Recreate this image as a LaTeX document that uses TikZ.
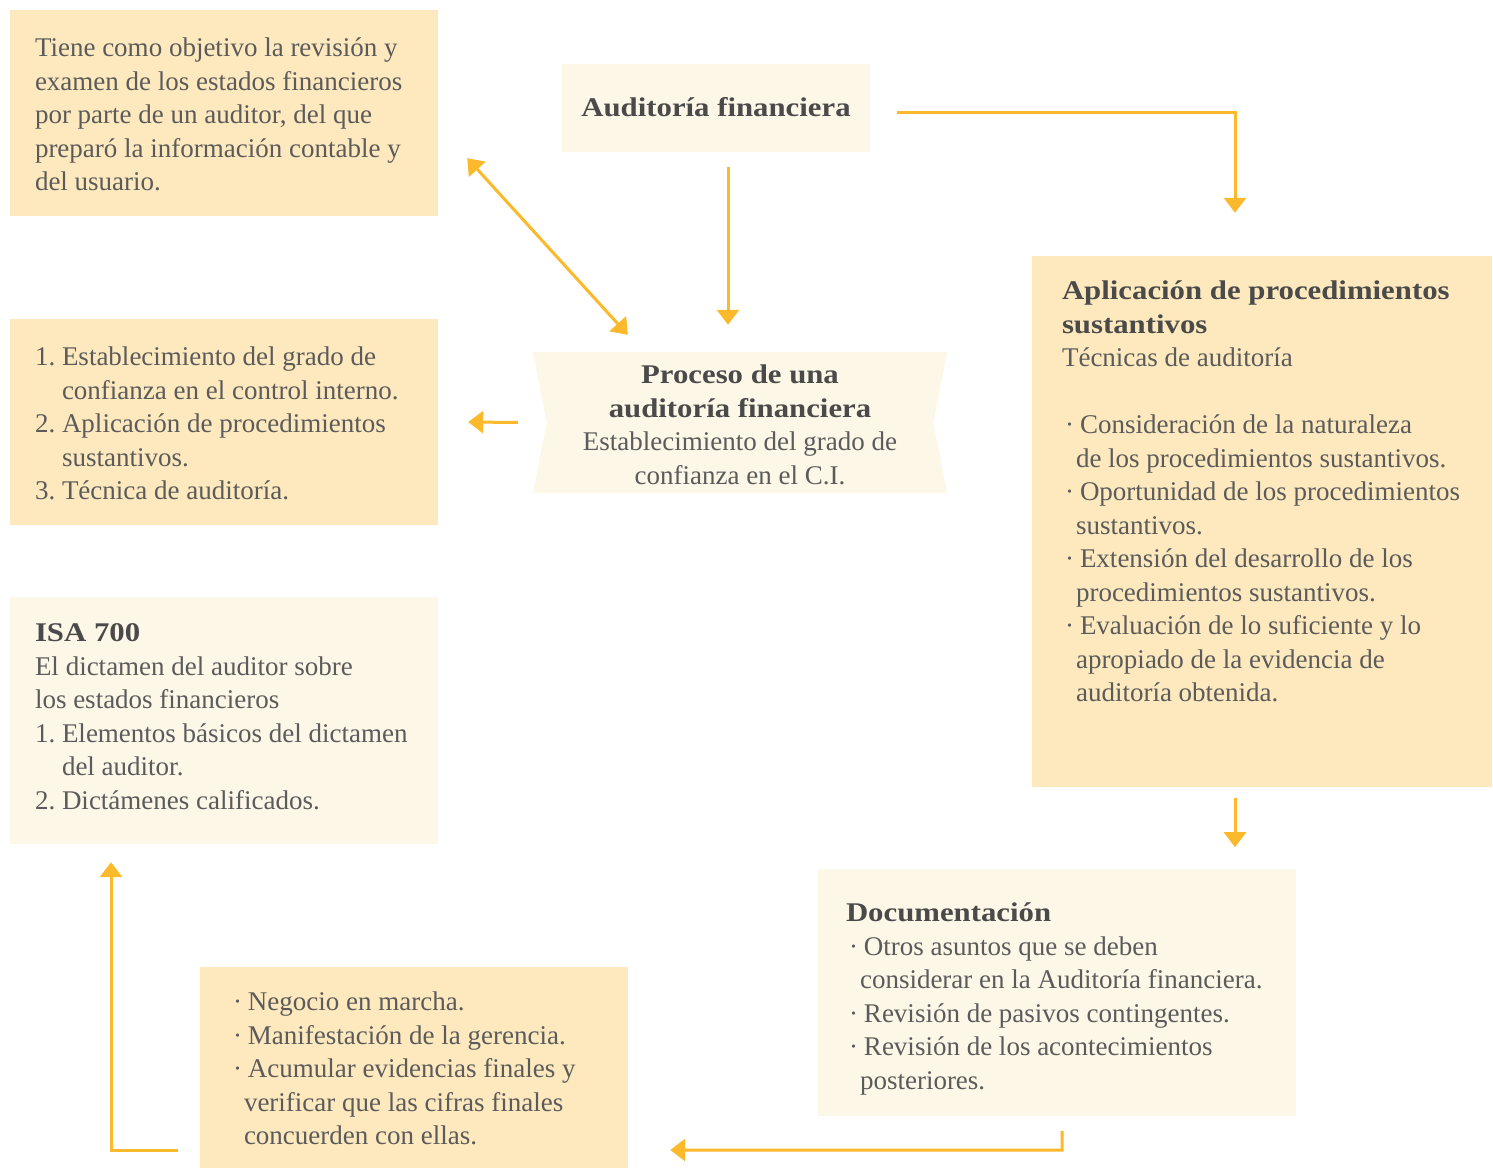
\documentclass[tikz,border=0pt]{standalone}
\usepackage{fontspec}
\setmainfont{Liberation Serif}[BoldFeatures={FakeStretch=1.14}]
\usetikzlibrary{arrows.meta,calc}
\definecolor{arr}{HTML}{FBB92B}
\definecolor{darkfill}{HTML}{FDE9BD}
\definecolor{lightfill}{HTML}{FDF7E7}
\definecolor{txtgray}{HTML}{5B5B5B}
\definecolor{boldgray}{HTML}{4A4A4A}
\newcommand\bitem{\hspace*{3pt}·\hspace{6pt}}
\newcommand\bcont{\hspace*{14pt}}
\newcommand\numi[1]{\makebox[27pt][l]{#1}}
\newcommand\numc{\hspace*{27pt}}
\newcommand\hd[1]{{\bfseries\color{boldgray}#1}}
\begin{document}
\begin{tikzpicture}[x=1pt,y=-1pt,
  dbox/.style={fill=darkfill,draw=none,inner sep=0pt},
  lbox/.style={fill=lightfill,draw=none,inner sep=0pt},
  txt/.style={anchor=north west,inner sep=0pt,align=left,text=txtgray,
    font=\fontsize{27}{33.5}\selectfont},
  conn/.style={draw=arr,line width=3pt,-{Triangle[width=22pt,length=15pt]}},
]
\useasboundingbox (0,0) rectangle (1493,1169);
% boxes
\node[dbox,minimum width=428pt,minimum height=206pt] (obj) at (224,113) {};
\node[lbox,minimum width=308pt,minimum height=88pt] (af) at (716,108) {};
\node[dbox,minimum width=428pt,minimum height=206pt] (lst) at (224,422) {};
\node[inner sep=0pt,minimum width=414pt,minimum height=141pt] (proc) at (740,422.5) {};
\fill[lightfill] (proc.north west) -- (proc.north east) -- ($(proc.east)+(-14,0)$)
  -- (proc.south east) -- (proc.south west) -- ($(proc.west)+(14,0)$) -- cycle;
\node[dbox,minimum width=460pt,minimum height=531pt] (apl) at (1262,521.5) {};
\node[lbox,minimum width=428pt,minimum height=247pt] (isa) at (224,720.5) {};
\node[lbox,minimum width=478pt,minimum height=247pt] (doc) at (1057,992.5) {};
\node[dbox,minimum width=428pt,minimum height=201pt] (fin) at (414,1067.5) {};
% texts
\node[txt] (objt) at ($(obj.north west)+(25,23.5)$) {\strut Tiene como objetivo la revisión y\\
examen de los estados financieros\\ por parte de un auditor, del que\\
preparó la información contable y\\ del usuario.};
\node[inner sep=0pt,font=\fontsize{27}{33.5}\selectfont] (aft) at (716,107) {\hd{Auditoría financiera}};
\node[txt] (lstt) at ($(lst.north west)+(25,23.5)$) {\strut\numi{1.}Establecimiento del grado de\\
\numc confianza en el control interno.\\ \numi{2.}Aplicación de procedimientos\\
\numc sustantivos.\\ \numi{3.}Técnica de auditoría.};
\node[txt,anchor=north,align=center] (proct) at ($(proc.north)+(0,8.5)$) {\strut\hd{Proceso de una}\\
\hd{auditoría financiera}\\ Establecimiento del grado de\\ confianza en el C.I.};
\node[txt] (aplt) at ($(apl.north west)+(30,20.5)$) {\strut\hd{Aplicación de procedimientos}\\
\hd{sustantivos}\\ Técnicas de auditoría\\[33.5pt]
\bitem Consideración de la naturaleza\\ \bcont de los procedimientos sustantivos.\\
\bitem Oportunidad de los procedimientos\\ \bcont sustantivos.\\
\bitem Extensión del desarrollo de los\\ \bcont procedimientos sustantivos.\\
\bitem Evaluación de lo suficiente y lo\\ \bcont apropiado de la evidencia de\\
\bcont auditoría obtenida.};
\node[txt] (isat) at ($(isa.north west)+(25,21.5)$) {\strut\hd{ISA 700}\\
El dictamen del auditor sobre\\ los estados financieros\\
\numi{1.}Elementos básicos del dictamen\\ \numc del auditor.\\ \numi{2.}Dictámenes calificados.};
\node[txt] (doct) at ($(doc.north west)+(28,29.5)$) {\strut\hd{Documentación}\\
\bitem Otros asuntos que se deben\\ \bcont considerar en la Auditoría financiera.\\
\bitem Revisión de pasivos contingentes.\\ \bitem Revisión de los acontecimientos\\
\bcont posteriores.};
\node[txt] (fint) at ($(fin.north west)+(30,20.5)$) {\strut\bitem Negocio en marcha.\\
\bitem Manifestación de la gerencia.\\ \bitem Acumular evidencias finales y\\
\bcont verificar que las cifras finales\\ \bcont concuerden con ellas.};
% connector end points
\coordinate (a1s) at ($(af.east)+(27,5)$);
\coordinate (a1e) at ($(apl.north)+(-27,-43)$);
\coordinate (a2s) at ($(af.south)+(12,15)$);
\coordinate (a2e) at ($(proc.north)+(-12,-27)$);
\coordinate (a3s) at ($(obj.south east)+(29,-58)$);
\coordinate (a3e) at ($(proc.north west)+(95,-17)$);
\coordinate (a4s) at ($(proc.west)+(-15,0)$);
\coordinate (a4e) at ($(lst.east)+(30,0)$);
\coordinate (a5s) at ($(apl.south)+(-27,11)$);
\coordinate (a5e) at ($(apl.south)+(-27,60)$);
\coordinate (a6s) at ($(doc.south)+(5,15)$);
\coordinate (a6m) at ($(doc.south)+(5,34)$);
\coordinate (a6e) at ($(fin.east)+(42,82.5)$);
\coordinate (a7s) at ($(fin.west)+(-22,82.5)$);
\coordinate (a7e) at ($(isa.south)+(-113,18)$);
% connectors
\draw[conn] (a1s) -| (a1e);
\draw[conn] (a2s) -- (a2e);
\draw[conn,{Triangle[width=22pt,length=15pt]}-{Triangle[width=22pt,length=15pt]}] (a3s) -- (a3e);
\draw[conn] (a4s) -- (a4e);
\draw[conn] (a5s) -- (a5e);
\draw[conn] (a6s) -- (a6m) -- (a6e);
\draw[conn] (a7s) -| (a7e);
\end{tikzpicture}
\end{document}
